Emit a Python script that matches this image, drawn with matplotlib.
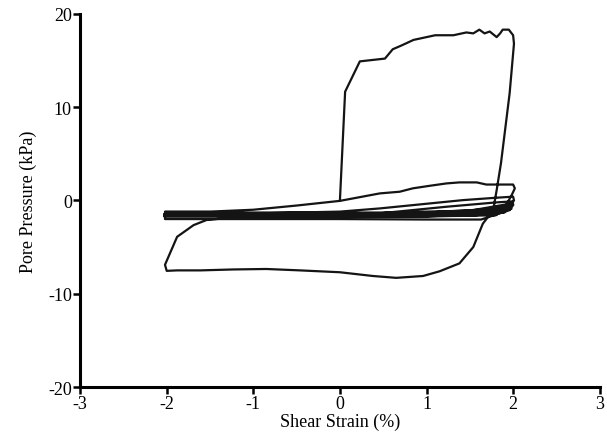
import matplotlib
matplotlib.use("Agg")
import matplotlib.pyplot as plt

# shear strain (%) and pore pressure (kPa), traced along the test path
# first big cycle: jump at zero strain, then wide loop out to +/-2 %
strain_big = [0.0, 0.06, 0.23, 0.52, 0.61, 0.71, 0.85, 1.1, 1.31, 1.46, 1.54, 1.61,
              1.67, 1.73, 1.81, 1.85, 1.88, 1.95, 2.0, 2.01, 1.96, 1.86, 1.81, 1.77,
              1.65, 1.54, 1.38, 1.15, 0.96, 0.65, 0.38, 0.0, -0.46, -0.85, -1.23,
              -1.61, -1.88, -2.0, -2.02, -1.88, -1.69, -1.54, -1.2, 0.0, 1.0, 1.5,
              1.9, 2.0]
pore_big = [0.0, 11.65, 14.9, 15.2, 16.2, 16.6, 17.2, 17.7, 17.7, 18.0, 17.9, 18.3,
            17.9, 18.1, 17.5, 17.9, 18.3, 18.3, 17.7, 16.8, 11.5, 4.0, 1.1, -1.04,
            -2.5, -5.0, -6.75, -7.6, -8.1, -8.3, -8.1, -7.7, -7.5, -7.35, -7.4,
            -7.5, -7.5, -7.55, -6.9, -3.9, -2.65, -2.1, -1.8, -1.75, -1.7, -1.65,
            -1.3, -0.3]

# later small cycles packed in the band around -1.5 kPa
strain_band = [1.5, 0.5, -1.0, -2.02,
               -2.02, -1.5, -1.0, -0.5, 0.0, 0.46, 0.69, 0.84, 1.04, 1.23, 1.38,
               1.58, 1.69, 2.0, 2.02, 1.98,
               1.9, 1.5, 0.5, -1.0, -2.02,
               -2.02, -1.0, 0.0, 0.46, 1.04, 1.42, 1.81, 2.0, 2.01,
               1.9, 1.5, 0.5, -1.0, -2.02,
               -2.02, -1.0, 0.0, 1.0, 1.6, 1.95, 1.98,
               1.85, 1.0, 0.0, -1.0, -2.03,
               -2.03, -1.0, -0.25, -0.13, 0.0, 0.5, 1.23, 1.81, 2.0, 1.98,
               1.8, 1.0, 0.0, -1.0, -2.02,
               -2.03, -1.0, 0.0, 1.0, 1.7, 1.97,
               1.8, 0.5, -1.0, -2.02,
               -2.02, -1.0, 0.0, 1.0, 1.63, 1.96, 2.0]
pore_band = [-1.1, -1.3, -1.3, -1.2,
             -1.25, -1.2, -1.0, -0.55, -0.05, 0.75, 0.93, 1.29, 1.57, 1.82, 1.93,
             1.93, 1.7, 1.7, 1.29, 0.5,
             -0.8, -1.2, -1.45, -1.45, -1.35,
             -1.45, -1.4, -1.2, -0.86, -0.32, 0.03, 0.29, 0.4, 0.0,
             -1.0, -1.5, -1.6, -1.55, -1.5,
             -1.55, -1.5, -1.45, -1.3, -1.0, -0.6, -0.9,
             -1.3, -1.55, -1.65, -1.6, -1.45,
             -1.6, -1.6, -1.65, -1.45, -1.6, -1.35, -0.68, -0.21, -0.1, -0.6,
             -1.45, -1.7, -1.7, -1.7, -1.6,
             -1.7, -1.65, -1.55, -1.4, -1.1, -0.4,
             -1.6, -1.75, -1.75, -1.7,
             -2.0, -2.0, -2.0, -2.05, -2.05, -1.04, -0.5]

x_ticks = [-3, -2, -1, 0, 1, 2, 3]
y_ticks = [-20, -10, 0, 10, 20]

plt.rcParams["font.family"] = ["Liberation Serif", "DejaVu Serif"]

fig = plt.figure(figsize=(6.07, 4.35), dpi=100)
ax = fig.add_axes([0.132, 0.108, 0.856, 0.858])

ax.plot(strain_big + strain_band, pore_big + pore_band, color="#141414", lw=1.6,
        solid_joinstyle="round")

ax.set_xlim(-3, 3)
ax.set_ylim(-20, 20)
ax.set_xticks(x_ticks)
ax.set_yticks(y_ticks)
ax.set_xticklabels([str(t) for t in x_ticks])
ax.set_yticklabels([str(t) for t in y_ticks])
for side in ("top", "right"):
    ax.spines[side].set_visible(False)
for side in ("left", "bottom"):
    ax.spines[side].set_linewidth(2.2)
ax.tick_params(direction="out", length=5, width=1.8, labelsize=13, pad=1)
ax.set_xlabel("Shear Strain (%)", fontsize=13, labelpad=0)
ax.set_ylabel("Pore Pressure (kPa)", fontsize=13, labelpad=8)

fig.savefig("out.png", dpi=100)
